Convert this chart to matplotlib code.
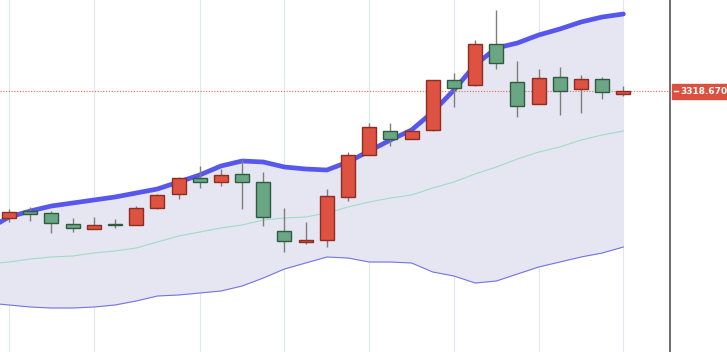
import matplotlib
matplotlib.use("Agg")
import matplotlib.pyplot as plt
from matplotlib.lines import Line2D
import numpy as np

# OHLC data (red = up, green = down)
opens  = [3191.7, 3198.7, 3196.7, 3185.7, 3180.7, 3185.7, 3184.7, 3201.7, 3215.7, 3231.7,
          3227.7, 3235.7, 3227.7, 3178.7, 3167.7, 3169.7, 3212.7, 3254.7, 3278.7, 3270.7,
          3279.7, 3329.7, 3324.7, 3365.7, 3327.7, 3305.7, 3332.7, 3320.7, 3330.7, 3316.2]
highs  = [3200.7, 3202.7, 3198.7, 3191.7, 3192.7, 3190.7, 3203.7, 3215.7, 3232.7, 3243.7,
          3240.7, 3250.7, 3237.7, 3201.7, 3187.7, 3220.7, 3257.7, 3286.7, 3286.7, 3279.7,
          3329.7, 3336.7, 3369.7, 3399.7, 3348.7, 3340.7, 3342.7, 3334.7, 3332.7, 3323.7]
lows   = [3187.7, 3188.7, 3176.7, 3177.7, 3180.7, 3181.7, 3184.7, 3200.7, 3210.7, 3221.7,
          3223.7, 3200.7, 3183.7, 3157.7, 3165.7, 3162.7, 3208.7, 3254.7, 3263.7, 3270.7,
          3279.0, 3302.7, 3323.7, 3340.7, 3292.7, 3305.7, 3294.7, 3296.7, 3310.7, 3313.7]
closes = [3197.7, 3195.7, 3186.7, 3181.7, 3184.7, 3184.7, 3201.7, 3214.7, 3231.7, 3227.7,
          3234.7, 3227.7, 3192.7, 3168.7, 3169.7, 3213.7, 3254.7, 3282.7, 3270.7, 3278.7,
          3329.7, 3321.7, 3365.7, 3346.7, 3303.7, 3331.7, 3318.7, 3330.7, 3317.7, 3318.67]

# Bollinger bands (first value belongs to the session before the first visible candle)
upper  = [3180.7, 3192.7, 3198.7, 3203.7, 3206.7, 3209.7, 3212.7, 3216.7, 3220.7, 3227.7, 3234.7,
          3243.7, 3248.7, 3247.7, 3242.7, 3240.7, 3239.7, 3247.7, 3258.7, 3269.7, 3279.7,
          3297.7, 3319.7, 3344.7, 3361.7, 3366.7, 3374.7, 3380.7, 3387.7, 3392.7, 3395.7]
middle = [3145.7, 3147.7, 3150.7, 3152.7, 3153.7, 3156.7, 3158.7, 3161.7, 3167.7, 3173.7, 3177.7,
          3181.7, 3184.7, 3189.7, 3191.7, 3192.7, 3196.7, 3202.7, 3207.7, 3211.7, 3214.7,
          3221.7, 3227.7, 3235.7, 3242.7, 3250.7, 3257.7, 3262.7, 3269.7, 3274.7, 3278.7]
lower  = [3106.7, 3104.7, 3102.7, 3101.7, 3101.7, 3102.7, 3104.7, 3108.7, 3113.7, 3114.7, 3116.7,
          3118.7, 3123.7, 3131.7, 3140.7, 3146.7, 3152.7, 3151.7, 3147.7, 3147.7, 3146.7,
          3137.7, 3133.7, 3126.7, 3128.7, 3135.7, 3142.7, 3147.7, 3152.7, 3156.7, 3162.7]

last_price = 3318.67
grid_idx = [0, 4, 9, 13, 17, 21, 25, 29]

W, H = 727, 352
fig = plt.figure(figsize=(W / 100, H / 100), dpi=100)
ax = fig.add_axes([0, 0, 670 / W, 1])

n = len(opens)
x = np.arange(n)
xb = np.arange(-1, n)

ax.set_xlim(-0.43, 31.2)
ax.set_ylim(3057.7, 3409.7)

# band fill and lines
ax.fill_between(xb, lower, upper, color="#e6e6f2", zorder=1, linewidth=0)
for gx in grid_idx:
    ax.axvline(gx, color="#e0e8ef", lw=0.8, zorder=1.5)
ax.plot(xb, upper, color="#5757ee", lw=3.4, zorder=2, solid_capstyle="round")
ax.plot(xb, middle, color="#9fdcc6", lw=0.8, zorder=2)
ax.plot(xb, lower, color="#7474e4", lw=0.8, zorder=2)

# last price dotted line
ax.axhline(last_price, color="#e06a5a", lw=0.8, ls=(0, (1, 1.5)), zorder=2.5)

# candles
red_fill, red_edge = "#dd5240", "#8e2d22"
grn_fill, grn_edge = "#6aa683", "#2f5c41"
for i in range(n):
    o, h, l, c = opens[i], highs[i], lows[i], closes[i]
    up = c >= o
    ax.vlines(i, l, h, color="#7d7d7d", lw=1.0, zorder=3)
    bottom = min(o, c)
    height = max(abs(c - o), 1.2)
    ax.bar(i, height, bottom=bottom, width=0.66,
           color=red_fill if up else grn_fill,
           edgecolor=red_edge if up else grn_edge, linewidth=1.0, zorder=4)

for s in ["top", "left", "bottom"]:
    ax.spines[s].set_visible(False)
ax.spines["right"].set_color("#555555")
ax.spines["right"].set_linewidth(1.2)
ax.set_xticks([])
ax.set_yticks([])
ax.patch.set_facecolor("white")

# price label on the right
yfrac = (last_price - 3057.7) / (3409.7 - 3057.7)
fig.patches.append(plt.Rectangle((672 / W, yfrac - 7.5 / H), 60 / W, 15 / H,
                                 transform=fig.transFigure, color="#d9503f", zorder=5))
fig.lines.append(Line2D([674 / W, 678 / W], [yfrac, yfrac], transform=fig.transFigure,
                        color="white", lw=1.0, zorder=6))
fig.text(680 / W, yfrac, "3318.670", color="white", fontsize=6.5, fontweight="bold",
         va="center", ha="left", zorder=7)

fig.savefig("out.png", dpi=100)
